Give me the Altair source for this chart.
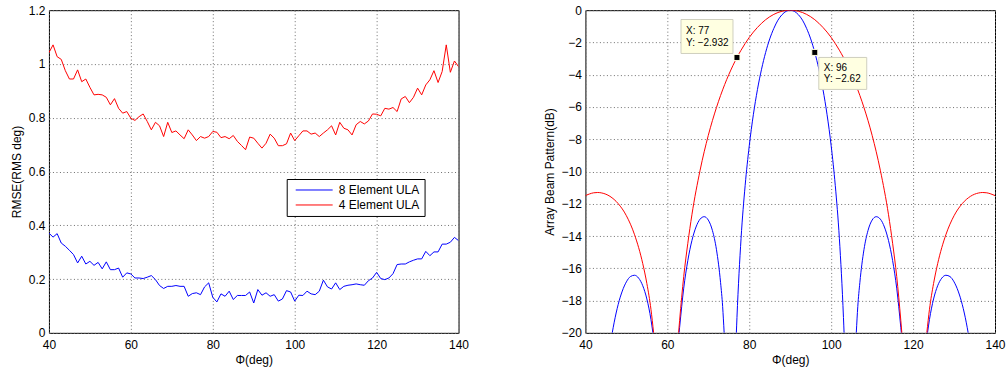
import altair as alt
import pandas as pd

FONT = "Liberation Sans"

# ---------------- left panel: RMSE vs angle ----------------
phi = list(range(40, 141))
rmse_8 = [
    0.371, 0.356, 0.369, 0.334, 0.322, 0.307, 0.291, 0.260, 0.285, 0.256,
    0.266, 0.251, 0.262, 0.238, 0.264, 0.235, 0.235, 0.241, 0.207, 0.223,
    0.219, 0.204, 0.204, 0.202, 0.207, 0.213, 0.198, 0.176, 0.165, 0.173,
    0.173, 0.176, 0.173, 0.173, 0.136, 0.146, 0.149, 0.142, 0.171, 0.186,
    0.132, 0.115, 0.145, 0.136, 0.155, 0.124, 0.139, 0.139, 0.139, 0.152,
    0.111, 0.161, 0.140, 0.149, 0.136, 0.142, 0.118, 0.126, 0.157, 0.152,
    0.118, 0.140, 0.139, 0.155, 0.145, 0.142, 0.155, 0.196, 0.171, 0.163,
    0.186, 0.161, 0.173, 0.177, 0.179, 0.182, 0.179, 0.177, 0.194, 0.204,
    0.225, 0.202, 0.198, 0.204, 0.220, 0.254, 0.256, 0.256, 0.264, 0.270,
    0.275, 0.275, 0.303, 0.287, 0.301, 0.301, 0.330, 0.330, 0.337, 0.355,
    0.343,
]
rmse_4 = [
    1.042, 1.071, 1.027, 1.017, 0.975, 0.944, 0.944, 0.978, 0.934, 0.944,
    0.913, 0.885, 0.887, 0.885, 0.876, 0.848, 0.871, 0.835, 0.817, 0.823,
    0.798, 0.790, 0.804, 0.814, 0.786, 0.755, 0.783, 0.770, 0.730, 0.783,
    0.745, 0.751, 0.736, 0.722, 0.755, 0.736, 0.715, 0.730, 0.724, 0.730,
    0.749, 0.746, 0.726, 0.730, 0.722, 0.734, 0.712, 0.697, 0.681, 0.728,
    0.724, 0.705, 0.687, 0.705, 0.739, 0.724, 0.696, 0.696, 0.703, 0.743,
    0.715, 0.733, 0.751, 0.751, 0.739, 0.743, 0.730, 0.743, 0.755, 0.770,
    0.736, 0.783, 0.761, 0.755, 0.736, 0.774, 0.786, 0.777, 0.788, 0.814,
    0.813, 0.807, 0.835, 0.832, 0.838, 0.823, 0.870, 0.879, 0.856, 0.876,
    0.910, 0.885, 0.922, 0.941, 0.975, 0.931, 0.972, 1.071, 0.969, 1.011,
    0.990,
]

# ---------------- right panel: beam patterns (dB), lobes clipped at -20 ----------------
b4_phi = [40, 41, 42, 43, 44, 46, 48, 50, 52, 54, 55, 56, 56.65,
          62.75, 63, 64, 65, 66, 68, 70, 72, 74, 76, 77, 78, 80, 82, 84, 86, 88, 90,
          92, 94, 96, 98, 100, 102, 103, 104, 106, 108, 110, 112, 114, 115, 116, 117, 117.25,
          123.35, 124, 125, 126, 128, 130, 132, 134, 136, 137, 138, 139, 140]
b4_db = [-11.49, -11.39, -11.32, -11.30, -11.33, -11.54, -11.99, -12.74, -13.92, -15.71, -16.94, -18.54, -20,
         -20, -19.23, -16.51, -14.45, -12.68, -9.92, -7.76, -6.03, -4.61, -3.44, -2.932, -2.48, -1.69, -1.07, -0.59, -0.26, -0.065, 0,
         -0.065, -0.26, -0.59, -1.07, -1.69, -2.48, -2.932, -3.44, -4.61, -6.03, -7.76, -9.92, -12.68, -14.45, -16.51, -19.23, -20,
         -20, -18.54, -16.94, -15.71, -13.92, -12.74, -11.99, -11.54, -11.33, -11.30, -11.32, -11.39, -11.49]
b4_seg = [0] * 13 + [1] * 35 + [2] * 13

b8_phi = [46.55, 47, 48, 49, 50, 51, 52, 53, 54, 55, 56, 56.48,
          62.87, 63, 64, 65, 66, 67, 68, 69, 70, 71, 72, 73, 73.5, 73.87,
          76.85, 77, 78, 79, 80, 81, 82, 83, 84, 85, 86, 87, 88, 89, 90,
          91, 92, 93, 94, 95, 96, 97, 98, 99, 100, 101, 102, 103, 103.15,
          106.13, 106.5, 107, 108, 109, 110, 111, 112, 113, 114, 115, 116, 117, 117.13,
          123.52, 124, 125, 126, 127, 128, 129, 130, 131, 132, 133, 133.45]
b8_db = [-20, -19.38, -18.24, -17.41, -16.84, -16.51, -16.43, -16.61, -17.08, -17.90, -19.17, -20,
         -20, -19.66, -17.23, -15.52, -14.28, -13.44, -12.95, -12.80, -13.01, -13.65, -14.85, -16.89, -18.36, -20,
         -20, -19.05, -14.14, -10.86, -8.41, -6.48, -4.92, -3.66, -2.62, -1.78, -1.13, -0.62, -0.28, -0.07, 0,
         -0.07, -0.28, -0.62, -1.13, -1.78, -2.62, -3.66, -4.92, -6.48, -8.41, -10.86, -14.14, -19.05, -20,
         -20, -18.36, -16.89, -14.85, -13.65, -13.01, -12.80, -12.95, -13.44, -14.28, -15.52, -17.23, -19.66, -20,
         -20, -19.17, -17.90, -17.08, -16.61, -16.43, -16.51, -16.84, -17.41, -18.24, -19.38, -20]
b8_seg = [0] * 12 + [1] * 14 + [2] * 29 + [3] * 14 + [4] * 12

tip_x = [77, 96]
tip_y = [-2.932, -2.62]
tip_text = ["X: 77\nY: \u22122.932", "X: 96\nY: \u22122.62"]

series_names = ["8 Element ULA", "4 Element ULA"]
series_colors = ["#0000ff", "#ff0000"]

# ---------------- common styling ----------------
axis_common = dict(
    labelFont=FONT, titleFont=FONT, labelFontSize=12, titleFontSize=12,
    titleFontWeight="normal", labelColor="black", titleColor="black",
    grid=True, gridDash=[1, 2.5], gridColor="#6e6e6e", gridWidth=1,
    domain=False, ticks=False, labelFlush=False, labelOverlap=False,
)
x_axis = alt.Axis(values=[40, 60, 80, 100, 120, 140], title="\u03a6(deg)",
                  titlePadding=4, labelPadding=7, **axis_common)
x_scale = alt.Scale(domain=[40, 140], nice=False, zero=False)
color_scale = alt.Scale(domain=series_names, range=series_colors)


def legend(lx, ly):
    return alt.Legend(
        title=None, orient="none", legendX=lx, legendY=ly, direction="vertical",
        strokeColor="black", fillColor="white", padding=5,
        labelFont=FONT, labelFontSize=12, labelColor="black",
        symbolType="M-8.25,0H1", symbolSize=64, symbolStrokeWidth=1,
        symbolOffset=31, labelOffset=4, rowPadding=3,
    )


left_df = pd.DataFrame({
    "phi": phi + phi,
    "val": rmse_8 + rmse_4,
    "series": [series_names[0]] * len(phi) + [series_names[1]] * len(phi),
})

left = alt.Chart(left_df).mark_line(strokeWidth=1, clip=True).encode(
    x=alt.X("phi:Q", scale=x_scale, axis=x_axis),
    y=alt.Y("val:Q", scale=alt.Scale(domain=[0, 1.2], nice=False),
            axis=alt.Axis(values=[0, 0.2, 0.4, 0.6, 0.8, 1, 1.2], format="~g",
                          title="RMSE(RMS deg)", titlePadding=5, labelPadding=4, **axis_common)),
    color=alt.Color("series:N", scale=color_scale, legend=legend(238, 169)),
    detail="series:N",
).properties(width=410, height=323)

beam_df = pd.DataFrame({
    "phi": b8_phi + b4_phi,
    "db": b8_db + b4_db,
    "seg": [f"8-{s}" for s in b8_seg] + [f"4-{s}" for s in b4_seg],
    "series": [series_names[0]] * len(b8_phi) + [series_names[1]] * len(b4_phi),
})
tips_df = pd.DataFrame({"phi": tip_x, "db": tip_y, "t": tip_text, "i": [0, 1]})

y_axis_r = alt.Axis(values=list(range(-20, 1, 2)), format="~g",
                    title="Array Beam Pattern(dB)", titlePadding=5, labelPadding=4, **axis_common)
y_scale_r = alt.Scale(domain=[-20, 0], nice=False)
xs = alt.X("phi:Q", scale=x_scale, axis=x_axis)
ys = alt.Y("db:Q", scale=y_scale_r, axis=y_axis_r)

lines = alt.Chart(beam_df).mark_line(strokeWidth=1, clip=True, interpolate="monotone").encode(
    x=xs, y=ys,
    color=alt.Color("series:N", scale=color_scale, legend=legend(238, 115)),
    detail="seg:N",
)

tip0 = tips_df[tips_df.i == 0]
tip1 = tips_df[tips_df.i == 1]

box0 = alt.Chart(tip0).mark_rect(
    fill="#ffffe1", stroke="#cfcfbf", strokeWidth=1,
    xOffset=-56, x2Offset=-4, yOffset=-38, y2Offset=-4,
).encode(x=xs, x2="phi:Q", y=ys, y2="db:Q")
box1 = alt.Chart(tip1).mark_rect(
    fill="#ffffe1", stroke="#cfcfbf", strokeWidth=1,
    xOffset=4, x2Offset=52, yOffset=5, y2Offset=37,
).encode(x=xs, x2="phi:Q", y=ys, y2="db:Q")

txt0 = alt.Chart(tip0).mark_text(
    font=FONT, fontSize=10, align="left", baseline="middle", dx=-51, dy=-26,
    lineBreak="\n", lineHeight=12, color="black",
).encode(x=xs, y=ys, text="t:N")
txt1 = alt.Chart(tip1).mark_text(
    font=FONT, fontSize=10, align="left", baseline="middle", dx=9, dy=16,
    lineBreak="\n", lineHeight=11, color="black",
).encode(x=xs, y=ys, text="t:N")

marks = alt.Chart(tips_df).mark_square(
    size=36, color="black", opacity=1, stroke="#ffffe1", strokeWidth=1
).encode(x=xs, y=ys)

right = alt.layer(lines, box0, box1, txt0, txt1, marks).properties(width=410, height=323)

chart = alt.hconcat(left, right, spacing=73).properties(
    padding={"left": 9, "top": 3, "right": 0, "bottom": 0},
    background="white",
).configure_view(stroke="black", strokeWidth=1)

chart.save("out.html", embed_options={"renderer": "svg", "actions": False})
